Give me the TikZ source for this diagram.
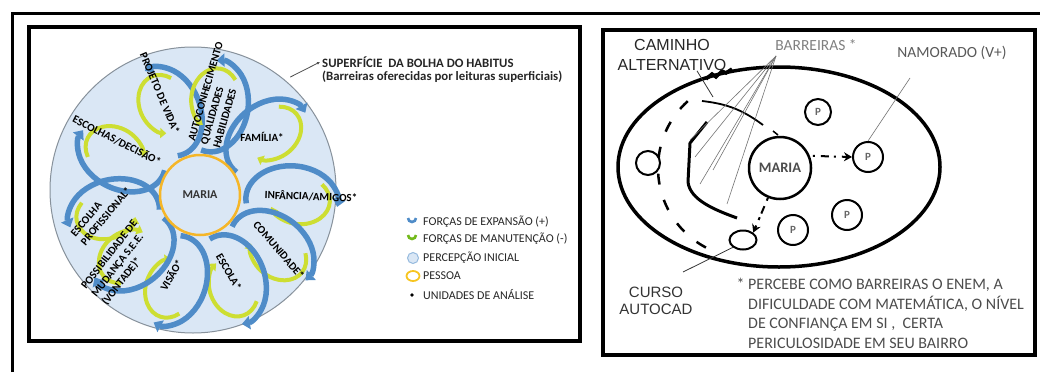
\documentclass[tikz,border=0pt]{standalone}
\usepackage{fontspec}
\setmainfont{Carlito}
\newfontfamily\arialfont{Liberation Sans}
\usetikzlibrary{arrows.meta,positioning,calc,shapes.geometric}
\definecolor{HabitusBlue}{RGB}{79,140,200}
\definecolor{HabitusYellow}{RGB}{205,222,50}
\definecolor{BubbleFill}{RGB}{218,231,245}
\definecolor{BubbleEdge}{RGB}{135,145,155}
\definecolor{PersonOrange}{RGB}{245,182,40}
\tikzset{
  petal/.style={font=\fontsize{11}{13}\selectfont\bfseries, inner sep=0pt, text=black},
  legend/.style={font=\fontsize{12}{13}\selectfont, anchor=west, inner sep=0pt, text=black!85},
  expand/.style={HabitusBlue, line width=5.5pt, -{Triangle[width=13pt,length=8pt]}},
  keep/.style={HabitusYellow, line width=4pt, -{Triangle[width=10pt,length=6pt]}},
  pcircle/.style={circle, draw, line width=2pt, minimum size=30pt, inner sep=0pt, text=black!60, font=\fontsize{11}{12}\selectfont\bfseries},
  thinline/.style={black!55, line width=0.6pt},
  rtext/.style={font=\fontsize{16}{19.5}\selectfont, text=black!70, inner sep=0pt},
}

\begin{document}
\begin{tikzpicture}[x=1pt,y=-1pt,>=Latex]
  \useasboundingbox (0,0) rectangle (1040,372);
  % frames
  \draw[line width=3pt] (12,372) -- (12,13) -- (1040,13);
  \draw[line width=3.5pt] (29,27) rectangle (580,341);
  \draw[line width=3.5pt] (603,30) rectangle (1035,355);

  % left panel: bubble of habitus
  \node[circle, draw=BubbleEdge, fill=BubbleFill, line width=1pt, minimum size=286pt] (bubble) at (193,190) {};
  \foreach \r/\d/\m in {153/88/1, 112/90/-1, 81/90/-1, 40/88/1, -3/92/1, -37/90/1, -70/90/1, -108/90/1, -140/88/1, -168/88/-1}{
    \begin{scope}[shift={(200,195)}, rotate=\r, yscale=\m]
      \draw[expand] (\d,0) ++(170:46 and 34) arc[start angle=170, end angle=368, x radius=46, y radius=34];
      \draw[keep] (\d+8,0) ++(-45:30 and 24) arc[start angle=-45, end angle=160, x radius=30, y radius=24];
    \end{scope}
  }
  \node[circle, draw=PersonOrange, fill=BubbleFill, line width=2.5pt, minimum size=80pt,
        font=\fontsize{12}{13}\selectfont\bfseries, text=black!80] (maria) at (200,195) {MARIA};

  \node[petal, rotate=-27] (decisao) at (117,140) {ESCOLHAS/DECISÃO*};
  \node[petal, rotate=-67] (projeto) at (160,93) {PROJETO DE VIDA*};
  \node[petal, rotate=74, align=left] (auto) at (218,95) {AUTOCONHECIMENTO\\QUALIDADES\\HABILIDADES};
  \node[petal] (familia) at (262,137) {FAMÍLIA*};
  \node[petal, rotate=-2] (infancia) at (311,196) {INFÂNCIA/AMIGOS*};
  \node[petal, rotate=-49] (comunidade) at (279,250) {COMUNIDADE*};
  \node[petal, rotate=-60] (escola) at (229,272) {ESCOLA*};
  \node[petal, rotate=60] (visao) at (171,275) {VISÃO*};
  \node[petal, rotate=52, align=left] (poss) at (120,263) {POSSIBILIDADE DE\\MUDANÇA S.E.E.\\(VONTADE)*};
  \node[petal, rotate=50, align=left] (prof) at (101,212) {ESCOLHA\\PROFISSIONAL*};

  \node[anchor=west, inner sep=0pt, font=\fontsize{12.8}{14}\selectfont\bfseries, text=black!85] (sup1) at (322,62) {SUPERFÍCIE\ \ DA BOLHA DO HABITUS};
  \node[anchor=west, inner sep=0pt, font=\fontsize{12.8}{14}\selectfont\bfseries, text=black!85] (sup2) at (322,77) {(Barreiras oferecidas por leituras superficiais)};
  \draw[black!70, line width=0.8pt, -{Latex[length=3pt,width=3pt]}] ([shift={(5,-3)}]bubble.50) -- ([xshift=-2pt]sup1.west);

  % legend
  \draw[HabitusBlue, line width=2.6pt] (408,218) arc[start angle=180, end angle=0, radius=4];
  \draw[HabitusYellow!70!green!80!black, line width=2.6pt] (408,235) arc[start angle=180, end angle=0, radius=4];
  \draw[HabitusBlue!60, fill=BubbleFill, line width=1pt] (413,258) circle (5.5);
  \draw[PersonOrange!80!yellow, line width=1.8pt] (413,276) ellipse [x radius=6.5, y radius=5];
  \fill (412,295) circle (1.8);
  \node[legend] (leg1) at (423,222) {FORÇAS DE EXPANSÃO (+)};
  \node[legend] (leg2) at (423,239) {FORÇAS DE MANUTENÇÃO (-)};
  \node[legend] (leg3) at (423,258) {PERCEPÇÃO INICIAL};
  \node[legend] (leg4) at (423,276) {PESSOA};
  \node[legend] (leg5) at (423,295) {UNIDADES DE ANÁLISE};

  % right panel: Maria's field
  \node[ellipse, draw, line width=3.5pt, minimum width=322pt, minimum height=200pt] (field) at (779,167) {};
  \draw[line width=3.5pt] (706,79) -- (712,74) -- (716,77) -- (722,71) -- (726,73) -- (732,69);
  \node[circle, draw, line width=2.5pt, minimum size=62pt, inner sep=0pt,
        font=\fontsize{14.5}{15}\selectfont\bfseries, text=black!70] (m2) at (780,168) {MARIA};
  \node[pcircle, minimum size=26pt] (p1) at (818,112) {P};
  \node[pcircle] (pn) at (868,157) {P};
  \node[pcircle] (p3) at (847,215) {P};
  \node[pcircle] (p4) at (793,230) {P};
  \node[circle, draw, line width=2pt, minimum size=24pt] (lone) at (648,163) {};
  \node[ellipse, draw, line width=2pt, minimum width=27pt, minimum height=19pt] (ac) at (743,240) {};

  \coordinate (altA) at (702,101);
  \coordinate (altB) at (763,125);
  \draw[line width=1.8pt] (altA) to[bend left=15] (altB);
  \draw[line width=1.5pt] (773,131) -- (778,135);
  \draw[line width=3pt, line join=round] (707,122) -- (690,143) -- (688,182) .. controls (690,200) and (715,210) .. (737,218);
  \draw[line width=2.5pt, dash pattern=on 11pt off 16pt] (748,168) ++(228:90) arc[start angle=228, end angle=111, radius=90];
  \draw[line width=2pt, dash pattern=on 2pt off 6pt on 8pt off 5pt, -{Stealth[length=8pt,width=9pt]}] ([xshift=3pt]m2.22) -- (pn.west);
  \draw[line width=2pt, dash pattern=on 3pt off 6pt on 8pt off 4pt, -{Stealth[length=8pt,width=9pt]}] (m2.-112) -- (ac.north east);

  \node[font=\arialfont\fontsize{16}{20}\selectfont, align=center, text=black!85, inner sep=0pt] (caminho) at (672,55) {CAMINHO\\ALTERNATIVO};
  \node[rtext, font=\fontsize{15.5}{19}\selectfont, text=black!50] (barr) at (816,45) {BARREIRAS *};
  \node[rtext, font=\fontsize{15.5}{19}\selectfont, text=black!65] (nam) at (952,53) {NAMORADO (V+)};
  \node[font=\arialfont\fontsize{15}{17}\selectfont, align=center, text=black!80, inner sep=0pt] (curso) at (656,301) {CURSO\\AUTOCAD};
  \node[rtext, align=left, anchor=north west] (note) at (748,278)
    {\llap{*\ }PERCEBE COMO BARREIRAS O ENEM, A\\DIFICULDADE COM MATEMÁTICA, O NÍVEL\\DE CONFIANÇA EM SI ,\ \ CERTA\\PERICULOSIDADE EM SEU BAIRRO};

  % pointers
  \coordinate (bfan) at (776,56);
  \foreach \e in {(690,140), (695,157), (700,184), (713,170), (727,204)}
    \draw[thinline] (bfan) -- \e;
  \coordinate (namtip) at (910,78);
  \draw[thinline] (namtip) -- (pn.north);
  \coordinate (alttip) at (713,97);
  \draw[thinline, black!80, line width=0.8pt] ([xshift=25pt]caminho.south) -- (alttip);
  \coordinate (cursotip) at (683,272);
  \draw[thinline, black!80, line width=0.8pt] (cursotip) -- (ac.south west);
\end{tikzpicture}
\end{document}
